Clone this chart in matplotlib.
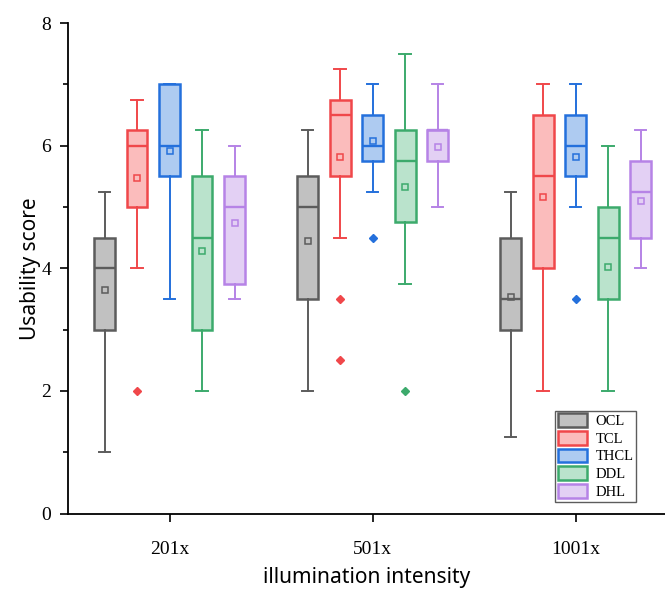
import matplotlib
matplotlib.use("Agg")
import matplotlib.pyplot as plt
from matplotlib.patches import Patch

groups = ["201x", "501x", "1001x"]
series = ["OCL", "TCL", "THCL", "DDL", "DHL"]
edge_colors = ["#5c5c5c", "#f0474a", "#2470dc", "#3caa6c", "#b683e6"]
fill_colors = ["#c1c1c1", "#fbbcbc", "#aecbf1", "#bae3cc", "#e3d0f4"]

# per series: values for [201x, 501x, 1001x]
whislo = {"OCL": [1.0, 2.0, 1.25], "TCL": [4.0, 4.5, 2.0], "THCL": [3.5, 5.25, 5.0],
          "DDL": [2.0, 3.75, 2.0], "DHL": [3.5, 5.0, 4.0]}
q1 = {"OCL": [3.0, 3.5, 3.0], "TCL": [5.0, 5.5, 4.0], "THCL": [5.5, 5.75, 5.5],
      "DDL": [3.0, 4.75, 3.5], "DHL": [3.75, 5.75, 4.5]}
med = {"OCL": [4.0, 5.0, 3.5], "TCL": [6.0, 6.5, 5.5], "THCL": [6.0, 6.0, 6.0],
       "DDL": [4.5, 5.75, 4.5], "DHL": [5.0, 6.25, 5.25]}
q3 = {"OCL": [4.5, 5.5, 4.5], "TCL": [6.25, 6.75, 6.5], "THCL": [7.0, 6.5, 6.5],
      "DDL": [5.5, 6.25, 5.0], "DHL": [5.5, 6.25, 5.75]}
whishi = {"OCL": [5.25, 6.25, 5.25], "TCL": [6.75, 7.25, 7.0], "THCL": [7.0, 7.0, 7.0],
          "DDL": [6.25, 7.5, 6.0], "DHL": [6.0, 7.0, 6.25]}
means = {"OCL": [3.64, 4.44, 3.53], "TCL": [5.48, 5.82, 5.17], "THCL": [5.92, 6.07, 5.82],
         "DDL": [4.28, 5.33, 4.02], "DHL": [4.73, 5.97, 5.09]}
fliers = {"OCL": [[], [], []], "TCL": [[2.0], [3.5, 2.5], []], "THCL": [[], [4.5], [3.5]],
          "DDL": [[], [2.0], []], "DHL": [[], [], []]}

fig = plt.figure(figsize=(6.65, 5.89), dpi=100)
ax = fig.add_axes([68 / 665, 1 - 513.5 / 589, 1 - 68 / 665, (513.5 - 23) / 589])

serif = "Liberation Serif"
spacing = 0.16
width = 0.103

for si, s in enumerate(series):
    stats = []
    positions = []
    for gi in range(len(groups)):
        stats.append(dict(med=med[s][gi], q1=q1[s][gi], q3=q3[s][gi],
                          whislo=whislo[s][gi], whishi=whishi[s][gi],
                          mean=means[s][gi], fliers=fliers[s][gi]))
        positions.append(gi + 1 + (si - 2) * spacing)
    ec = edge_colors[si]
    fc = fill_colors[si]
    ax.bxp(stats, positions=positions, widths=width, patch_artist=True,
           showmeans=True, manage_ticks=False,
           boxprops=dict(facecolor=fc, edgecolor=ec, linewidth=1.8),
           medianprops=dict(color=ec, linewidth=1.7),
           whiskerprops=dict(color=ec, linewidth=1.4),
           capprops=dict(color=ec, linewidth=1.4),
           capwidths=width * 0.55,
           meanprops=dict(marker="s", markerfacecolor="none", markeredgecolor=ec,
                          markersize=5, markeredgewidth=1.1),
           flierprops=dict(marker="D", markerfacecolor=ec, markeredgecolor=ec,
                           markersize=4.5))

ax.set_xlim(0.5, 3.44)
ax.set_ylim(0, 8)
ax.set_xticks([1, 2, 3])
ax.set_xticklabels(groups, fontfamily=serif, fontsize=14)
ax.set_yticks([0, 2, 4, 6, 8])
ax.set_yticks([1, 3, 5, 7], minor=True)
ax.set_yticklabels(["0", "2", "4", "6", "8"], fontfamily=serif, fontsize=14)
ax.tick_params(axis="both", which="major", direction="out", length=6, width=1.2, pad=6)
ax.tick_params(axis="y", which="minor", direction="out", length=3.5, width=1.2)
ax.tick_params(axis="x", pad=14)
for sp in ["top", "right"]:
    ax.spines[sp].set_visible(False)
for sp in ["left", "bottom"]:
    ax.spines[sp].set_linewidth(1.3)

ax.set_xlabel("illumination intensity", fontfamily="Noto Sans", fontsize=15, labelpad=6)
ax.set_ylabel("Usability score", fontfamily="Noto Sans", fontsize=15, labelpad=0)

handles = [Patch(facecolor=fill_colors[i], edgecolor=edge_colors[i], linewidth=1.8,
                 label=series[i]) for i in range(len(series))]
leg = ax.legend(handles=handles, loc="lower right", bbox_to_anchor=(0.952, 0.024),
                prop=dict(family=serif, size=10.5), frameon=True, fancybox=False,
                edgecolor="#333333", handlelength=2.0, handleheight=1.05,
                handletextpad=0.6, labelspacing=0.2, borderpad=0.2, borderaxespad=0)
leg.get_frame().set_linewidth(1.0)

fig.savefig("out.png", dpi=100)
